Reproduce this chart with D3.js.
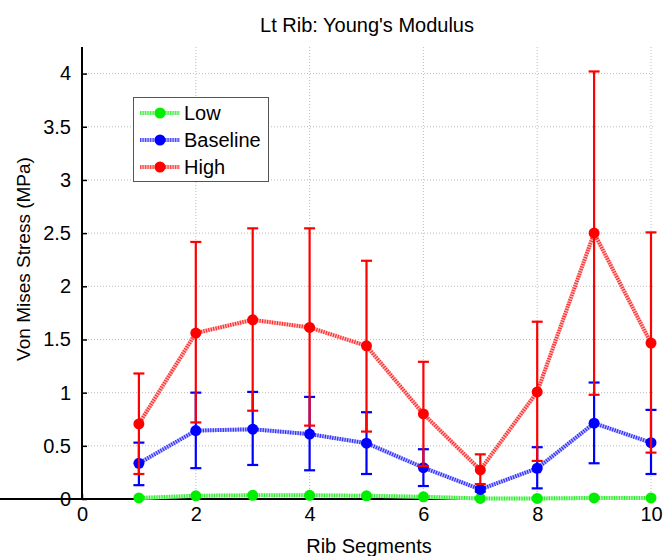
<!DOCTYPE html>
<html><head><meta charset="utf-8">
<script src="https://cdn.jsdelivr.net/npm/d3@7"></script>
<style>body{margin:0;background:#fff;} text{font-family:"Liberation Sans",Arial,sans-serif;}</style>
</head><body>
<svg id="c" width="664" height="556"></svg>
<script>
const segments = [1,2,3,4,5,6,7,8,9,10];
const lowMean  = [0.01,0.03,0.035,0.035,0.03,0.02,0.005,0.005,0.01,0.01];
const lowLo    = [0.005,0.02,0.025,0.025,0.02,0.012,0.002,0.002,0.005,0.005];
const lowHi    = [0.015,0.04,0.045,0.045,0.04,0.028,0.008,0.008,0.015,0.015];
const baseMean = [0.336,0.643,0.656,0.61,0.525,0.295,0.09,0.289,0.713,0.53];
const baseLo   = [0.13,0.29,0.32,0.27,0.235,0.122,0.07,0.10,0.336,0.235];
const baseHi   = [0.53,1.0,1.007,0.96,0.816,0.468,0.11,0.487,1.095,0.838];
const highMean = [0.706,1.56,1.685,1.613,1.44,0.80,0.273,1.007,2.50,1.466];
const highLo   = [0.235,0.72,0.83,0.69,0.634,0.31,0.14,0.358,0.98,0.436];
const highHi   = [1.18,2.417,2.545,2.545,2.24,1.29,0.42,1.667,4.02,2.507];
const xTicks = [0,2,4,6,8,10];
const yTicks = [0,0.5,1,1.5,2,2.5,3,3.5,4];
const seriesNames = ["Low","Baseline","High"];
const seriesColors = ["#00ee00","#0000ff","#ff0000"];
const seriesPale = ["#b8f5b8","#b8b8ff","#ffb8b8"];

const svg = d3.select("#c");
const L = 82, R = 651, T = 47, B = 499;
const x = d3.scaleLinear().domain([0,10]).range([L,R]);
const y = d3.scaleLinear().domain([0,4.25]).range([B,T]);

// grid
const g = svg.append("g");
g.selectAll(".gx").data(xTicks.slice(1)).enter().append("line")
  .attr("x1",d=>x(d)).attr("x2",d=>x(d)).attr("y1",T).attr("y2",B)
  .attr("stroke","#bdbdbd").attr("stroke-width",1).attr("stroke-dasharray","1,2");
g.selectAll(".gy").data(yTicks.slice(1)).enter().append("line")
  .attr("x1",L).attr("x2",R+4).attr("y1",d=>y(d)).attr("y2",d=>y(d))
  .attr("stroke","#bdbdbd").attr("stroke-width",1).attr("stroke-dasharray","1,2");

// axes
const yAxis = d3.axisLeft(y).tickValues(yTicks).tickSize(-5).tickPadding(11).tickFormat(d=>d3.format("")(d));
const xAxis = d3.axisBottom(x).tickValues(xTicks).tickSize(-5).tickPadding(8).tickFormat(d3.format("d"));
const ya = svg.append("g").attr("transform",`translate(${L},0)`).call(yAxis);
const xa = svg.append("g").attr("transform",`translate(0,${B})`).call(xAxis);
[ya,xa].forEach(a=>{
  a.select(".domain").attr("stroke","#000").attr("stroke-width",2);
  a.selectAll(".tick line").attr("stroke","#000").attr("stroke-width",1.5);
  a.selectAll(".tick text").attr("font-size",20).attr("fill","#000").attr("font-family","Liberation Sans, Arial, sans-serif");
});
ya.select(".domain").attr("d",`M0,${T}V${B}`);
xa.select(".domain").attr("d",`M0,0H${R}`);

// series
const data = [
  {mean:lowMean, lo:lowLo, hi:lowHi},
  {mean:baseMean, lo:baseLo, hi:baseHi},
  {mean:highMean, lo:highLo, hi:highHi}
];
const line = d3.line().x((d,i)=>x(segments[i])).y(d=>y(d));
data.forEach((s,k)=>{
  const sg = svg.append("g");
  sg.append("path").attr("d",line(s.mean)).attr("fill","none")
    .attr("stroke",seriesPale[k]).attr("stroke-width",4);
  sg.append("path").attr("d",line(s.mean)).attr("fill","none")
    .attr("stroke",seriesColors[k]).attr("stroke-width",4).attr("stroke-opacity",0.75).attr("stroke-dasharray","1.2,1.3");
});
data.forEach((s,k)=>{
  const sg = svg.append("g");
  const c = seriesColors[k];
  segments.forEach((sv,i)=>{
    const cx = x(sv);
    sg.append("line").attr("x1",cx).attr("x2",cx).attr("y1",y(s.lo[i])).attr("y2",y(s.hi[i])).attr("stroke",c).attr("stroke-width",2.2);
    if (k>0) {
      [s.lo[i],s.hi[i]].forEach(v=>{
        sg.append("line").attr("x1",cx-5.5).attr("x2",cx+5.5).attr("y1",y(v)).attr("y2",y(v)).attr("stroke",c).attr("stroke-width",2.2);
      });
    }
  });
  sg.selectAll("circle").data(s.mean).enter().append("circle")
    .attr("cx",(d,i)=>x(segments[i])).attr("cy",d=>y(d)).attr("r",5.5).attr("fill",c);
});

// title and labels
svg.append("text").attr("x",367).attr("y",32).attr("text-anchor","middle").attr("font-size",20).text("Lt Rib: Young's Modulus");
svg.append("text").attr("x",369).attr("y",553).attr("text-anchor","middle").attr("font-size",20).text("Rib Segments");
svg.append("text").attr("transform","translate(30,259) rotate(-90)").attr("text-anchor","middle").attr("font-size",19).text("Von Mises Stress (MPa)");

// legend
const lg = svg.append("g");
lg.append("rect").attr("x",133.5).attr("y",97.5).attr("width",135).attr("height",84).attr("fill","#fff").attr("stroke","#555").attr("stroke-width",1);
seriesNames.forEach((n,k)=>{
  const yy = 113 + k*27;
  lg.append("line").attr("x1",140).attr("x2",180).attr("y1",yy).attr("y2",yy).attr("stroke",seriesPale[k]).attr("stroke-width",4);
  lg.append("line").attr("x1",140).attr("x2",180).attr("y1",yy).attr("y2",yy).attr("stroke",seriesColors[k]).attr("stroke-width",4).attr("stroke-opacity",0.6).attr("stroke-dasharray","1.2,1.3");
  lg.append("circle").attr("cx",160).attr("cy",yy).attr("r",5.5).attr("fill",seriesColors[k]);
  lg.append("text").attr("x",184).attr("y",yy+7).attr("font-size",20).text(n);
});
</script>
</body></html>
